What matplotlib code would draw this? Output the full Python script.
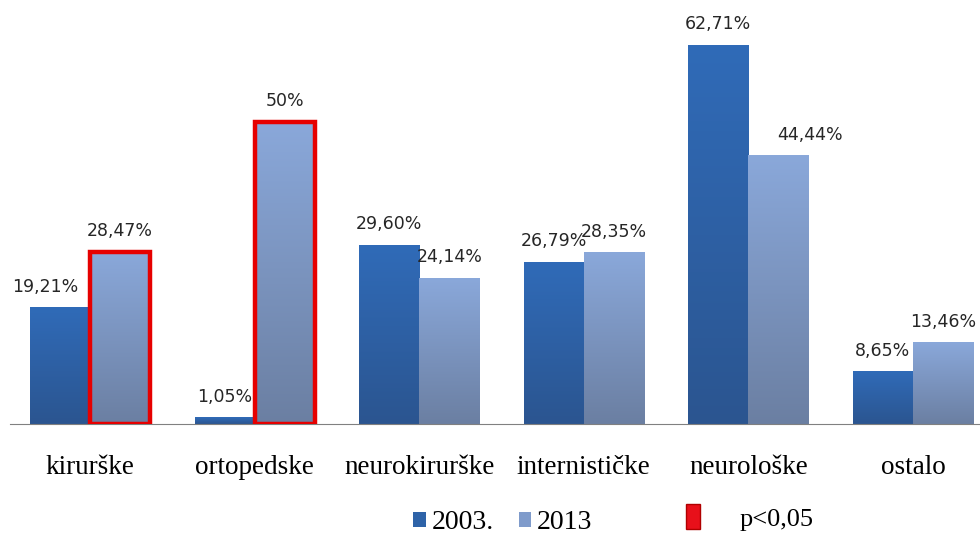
import numpy as np
import matplotlib.pyplot as plt
from matplotlib.patches import Patch
from matplotlib.colors import LinearSegmentedColormap

categories = ["kirurške", "ortopedske", "neurokirurške", "internističke", "neurološke", "ostalo"]
vals_2003 = [19.21, 1.05, 29.60, 26.79, 62.71, 8.65]
vals_2013 = [28.47, 50.00, 24.14, 28.35, 44.44, 13.46]
labels_2003 = ["19,21%", "1,05%", "29,60%", "26,79%", "62,71%", "8,65%"]
labels_2013 = ["28,47%", "50%", "24,14%", "28,35%", "44,44%", "13,46%"]
significant = [True, True, False, False, False, False]

# small horizontal nudges of value labels (in group units)
dx_2003 = [-0.09, 0, 0, 0, 0, 0]
dx_2013 = [0, 0, 0, 0, 0.19, 0]

dark_cmap = LinearSegmentedColormap.from_list("d", ["#2b5590", "#306bb8"])
light_cmap = LinearSegmentedColormap.from_list("l", ["#6b7fa2", "#8aa8da"])

fig = plt.figure(figsize=(9.8, 5.36), dpi=100)
ax = fig.add_axes([10 / 980, 112 / 536, 970 / 980, 424 / 536])

x = np.arange(len(categories))
w = 0.365
grad = np.linspace(0, 1, 256).reshape(-1, 1)

bars_a = ax.bar(x - w / 2, vals_2003, w, color="none", zorder=2)
bars_b = ax.bar(x + w / 2, vals_2013, w, color="none", zorder=2)

for bars, cmap in [(bars_a, dark_cmap), (bars_b, light_cmap)]:
    for b in bars:
        x0, y0 = b.get_x(), b.get_y()
        ax.imshow(grad, cmap=cmap, origin="lower", aspect="auto",
                  extent=[x0, x0 + b.get_width(), y0, y0 + b.get_height()], zorder=1)

for i, b in enumerate(bars_b):
    if significant[i]:
        ax.bar(b.get_x() + b.get_width() / 2, b.get_height(), w, color="none",
               edgecolor="#e60000", linewidth=3.2, zorder=3)

for i in range(len(categories)):
    ax.text(x[i] - w / 2 + dx_2003[i], vals_2003[i] + 2.0, labels_2003[i],
            ha="center", va="bottom", fontsize=12.5, color="#262626", family="DejaVu Sans")
    ax.text(x[i] + w / 2 + dx_2013[i], vals_2013[i] + 2.0, labels_2013[i],
            ha="center", va="bottom", fontsize=12.5, color="#262626", family="DejaVu Sans")

ax.set_xlim(-0.486, 5.407)
ax.set_ylim(0, 70.2)
ax.set_yticks([])
ax.set_xticks(x)
ax.set_xticklabels(categories, family="Liberation Serif", fontsize=19.5)
ax.tick_params(axis="x", length=0, pad=22)
for s in ["top", "right", "left"]:
    ax.spines[s].set_visible(False)
ax.spines["bottom"].set_color("#808080")

h1 = [Patch(facecolor="#2e63a8"), Patch(facecolor="#7f9bcb")]
fig.legend(h1, ["2003.", "2013"], loc="center", bbox_to_anchor=(0.513, 0.025),
           ncol=2, frameon=False, prop={"family": "Liberation Serif", "size": 20},
           handlelength=0.45, handleheight=0.45, handletextpad=0.2, columnspacing=0.9)
fig.legend([Patch(facecolor="#e8101a", edgecolor="#b00000")], ["p<0,05"], loc="center",
           bbox_to_anchor=(0.765, 0.035), frameon=False,
           prop={"family": "Liberation Serif", "size": 19},
           handlelength=0.5, handleheight=1.1, handletextpad=1.5)

fig.savefig("out.png", dpi=100)
